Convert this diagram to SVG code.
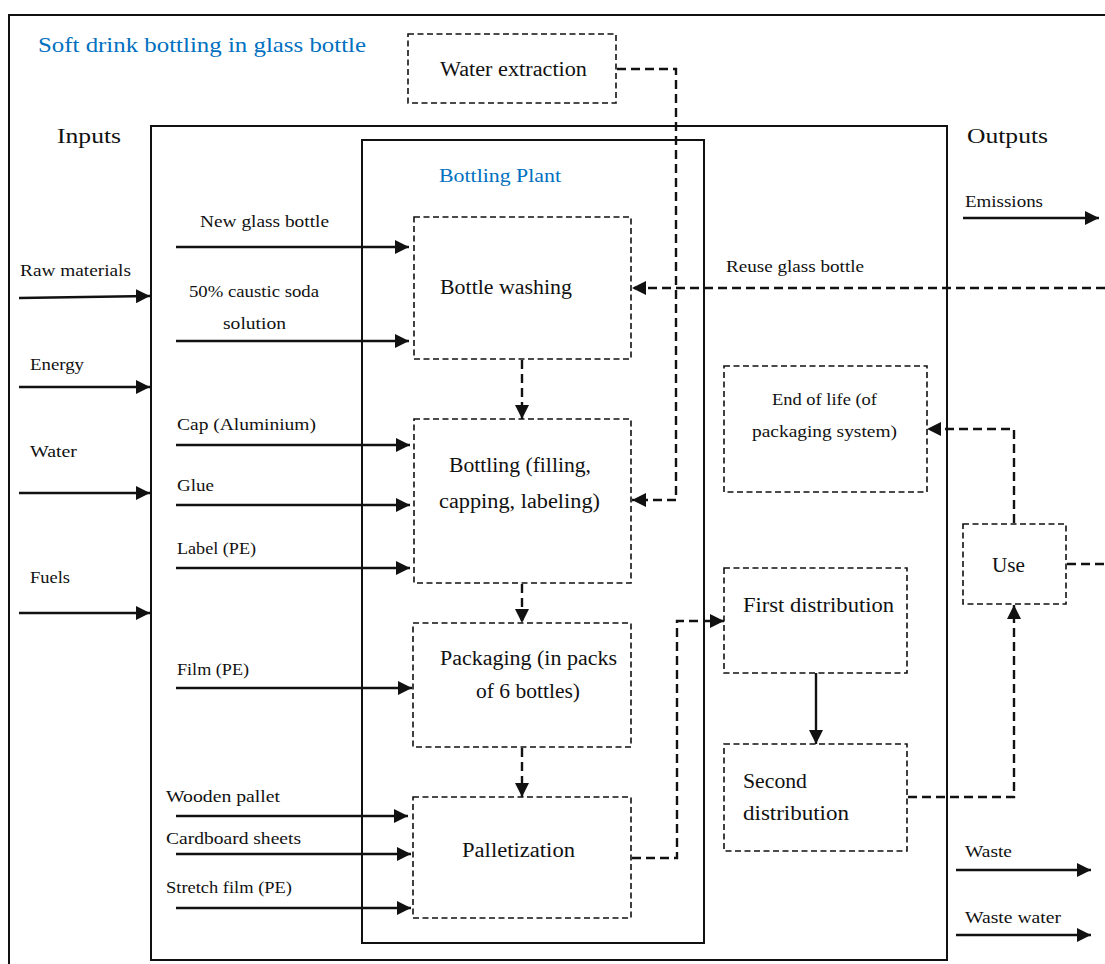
<svg xmlns="http://www.w3.org/2000/svg" width="1105" height="964" viewBox="0 0 1105 964">
  <style>
    text { fill: #111; }
    .title { font-size: 22px; fill: #0070C0; }
    .plant { font-size: 19px; fill: #0070C0; }
    .head { font-size: 22px; }
    .box { font-size: 20px; }
    .lbl { font-size: 17px; }
    .frame { fill: none; stroke: #111; stroke-width: 2; }
    .step { fill: #fff; stroke: #111; stroke-width: 1.6; stroke-dasharray: 6 3.5; }
    .flow { fill: none; stroke: #111; stroke-width: 2.4; }
    .dflow { fill: none; stroke: #111; stroke-width: 2.4; stroke-dasharray: 9 5; }
  </style>
  <defs>
    <marker id="arrow" viewBox="0 0 14 14" refX="14" refY="7" markerWidth="14" markerHeight="14" markerUnits="userSpaceOnUse" orient="auto">
      <path d="M0,0 L14,7 L0,14 z" fill="#111" stroke="none"/>
    </marker>
  </defs>

  <rect width="1105" height="964" fill="#fff"/>

  <!-- frames -->
  <g id="frames">
    <path class="frame" d="M9,964 V15 H1105"/>
    <rect class="frame" x="151" y="126" width="796" height="834"/>
    <rect class="frame" x="362" y="140" width="342" height="803"/>
  </g>

  <g font-family="'Liberation Serif', 'DejaVu Serif', serif">
  <!-- headings -->
  <g id="headings">
    <text class="title" x="38" y="52" textLength="328" lengthAdjust="spacingAndGlyphs">Soft drink bottling in glass bottle</text>
    <text class="head" x="57" y="143" textLength="64" lengthAdjust="spacingAndGlyphs">Inputs</text>
    <text class="head" x="967" y="143" textLength="81" lengthAdjust="spacingAndGlyphs">Outputs</text>
    <text class="plant" x="439" y="182" textLength="122" lengthAdjust="spacingAndGlyphs">Bottling Plant</text>
  </g>

  <!-- process steps -->
  <g id="water-extraction">
    <rect class="step" x="408" y="34" width="208" height="69"/>
    <text class="box" x="440" y="76" textLength="147" lengthAdjust="spacingAndGlyphs">Water extraction</text>
  </g>
  <g id="bottle-washing">
    <rect class="step" x="414" y="217" width="217" height="142"/>
    <text class="box" x="440" y="294" textLength="132" lengthAdjust="spacingAndGlyphs">Bottle washing</text>
  </g>
  <g id="bottling">
    <rect class="step" x="414" y="419" width="217" height="164"/>
    <text class="box" x="449" y="472" textLength="142" lengthAdjust="spacingAndGlyphs">Bottling (filling,</text>
    <text class="box" x="439" y="508" textLength="161" lengthAdjust="spacingAndGlyphs">capping, labeling)</text>
  </g>
  <g id="packaging">
    <rect class="step" x="413" y="623" width="218" height="124"/>
    <text class="box" x="440" y="665" textLength="177" lengthAdjust="spacingAndGlyphs">Packaging (in packs</text>
    <text class="box" x="476" y="698" textLength="104" lengthAdjust="spacingAndGlyphs">of 6 bottles)</text>
  </g>
  <g id="palletization">
    <rect class="step" x="413" y="797" width="218" height="121"/>
    <text class="box" x="462" y="857" textLength="113" lengthAdjust="spacingAndGlyphs">Palletization</text>
  </g>
  <g id="end-of-life">
    <rect class="step" x="724" y="366" width="203" height="126"/>
    <text class="lbl" x="772" y="405" textLength="105" lengthAdjust="spacingAndGlyphs">End of life (of</text>
    <text class="lbl" x="752" y="437" textLength="145" lengthAdjust="spacingAndGlyphs">packaging system)</text>
  </g>
  <g id="first-distribution">
    <rect class="step" x="724" y="568" width="183" height="105"/>
    <text class="box" x="743" y="612" textLength="151" lengthAdjust="spacingAndGlyphs">First distribution</text>
  </g>
  <g id="second-distribution">
    <rect class="step" x="724" y="744" width="183" height="107"/>
    <text class="box" x="743" y="788" textLength="64" lengthAdjust="spacingAndGlyphs">Second</text>
    <text class="box" x="743" y="820" textLength="106" lengthAdjust="spacingAndGlyphs">distribution</text>
  </g>
  <g id="use">
    <rect class="step" x="963" y="524" width="103" height="80"/>
    <text class="box" x="992" y="572" textLength="33" lengthAdjust="spacingAndGlyphs">Use</text>
  </g>

  <!-- flow labels -->
  <g id="labels">
    <text class="lbl" x="20" y="276" textLength="111" lengthAdjust="spacingAndGlyphs">Raw materials</text>
    <text class="lbl" x="30" y="370" textLength="54" lengthAdjust="spacingAndGlyphs">Energy</text>
    <text class="lbl" x="30" y="457" textLength="47" lengthAdjust="spacingAndGlyphs">Water</text>
    <text class="lbl" x="30" y="583" textLength="40" lengthAdjust="spacingAndGlyphs">Fuels</text>
    <text class="lbl" x="200" y="227" textLength="129" lengthAdjust="spacingAndGlyphs">New glass bottle</text>
    <text class="lbl" x="189" y="297" textLength="130" lengthAdjust="spacingAndGlyphs">50% caustic soda</text>
    <text class="lbl" x="223" y="329" textLength="63" lengthAdjust="spacingAndGlyphs">solution</text>
    <text class="lbl" x="177" y="430" textLength="139" lengthAdjust="spacingAndGlyphs">Cap (Aluminium)</text>
    <text class="lbl" x="177" y="491" textLength="37" lengthAdjust="spacingAndGlyphs">Glue</text>
    <text class="lbl" x="177" y="554" textLength="79" lengthAdjust="spacingAndGlyphs">Label (PE)</text>
    <text class="lbl" x="177" y="675" textLength="72" lengthAdjust="spacingAndGlyphs">Film (PE)</text>
    <text class="lbl" x="166" y="802" textLength="114" lengthAdjust="spacingAndGlyphs">Wooden pallet</text>
    <text class="lbl" x="166" y="844" textLength="135" lengthAdjust="spacingAndGlyphs">Cardboard sheets</text>
    <text class="lbl" x="166" y="893" textLength="126" lengthAdjust="spacingAndGlyphs">Stretch film (PE)</text>
    <text class="lbl" x="965" y="207" textLength="78" lengthAdjust="spacingAndGlyphs">Emissions</text>
    <text class="lbl" x="726" y="272" textLength="138" lengthAdjust="spacingAndGlyphs">Reuse glass bottle</text>
    <text class="lbl" x="965" y="857" textLength="47" lengthAdjust="spacingAndGlyphs">Waste</text>
    <text class="lbl" x="965" y="923" textLength="96" lengthAdjust="spacingAndGlyphs">Waste water</text>
  </g>
  </g>

  <!-- connectors -->
  <g id="connectors">
    <!-- system inputs -->
    <line class="flow" x1="19" y1="298" x2="150" y2="296" marker-end="url(#arrow)"/>
    <line class="flow" x1="19" y1="387" x2="150" y2="387" marker-end="url(#arrow)"/>
    <line class="flow" x1="19" y1="493" x2="150" y2="493" marker-end="url(#arrow)"/>
    <line class="flow" x1="19" y1="613" x2="150" y2="613" marker-end="url(#arrow)"/>
    <!-- material inputs -->
    <line class="flow" x1="176" y1="247" x2="409" y2="247" marker-end="url(#arrow)"/>
    <line class="flow" x1="176" y1="341" x2="409" y2="341" marker-end="url(#arrow)"/>
    <line class="flow" x1="176" y1="445" x2="410" y2="445" marker-end="url(#arrow)"/>
    <line class="flow" x1="176" y1="505" x2="410" y2="505" marker-end="url(#arrow)"/>
    <line class="flow" x1="176" y1="568" x2="410" y2="568" marker-end="url(#arrow)"/>
    <line class="flow" x1="176" y1="688" x2="412" y2="688" marker-end="url(#arrow)"/>
    <line class="flow" x1="176" y1="816" x2="408" y2="816" marker-end="url(#arrow)"/>
    <line class="flow" x1="176" y1="854" x2="411" y2="854" marker-end="url(#arrow)"/>
    <line class="flow" x1="176" y1="908" x2="411" y2="908" marker-end="url(#arrow)"/>
    <!-- outputs -->
    <line class="flow" x1="963" y1="218" x2="1099" y2="218" marker-end="url(#arrow)"/>
    <line class="flow" x1="956" y1="870" x2="1091" y2="870" marker-end="url(#arrow)"/>
    <line class="flow" x1="956" y1="935" x2="1091" y2="935" marker-end="url(#arrow)"/>
    <!-- process chain -->
    <line class="dflow" x1="522" y1="360" x2="522" y2="419" marker-end="url(#arrow)"/>
    <line class="dflow" x1="522" y1="584" x2="522" y2="623" marker-end="url(#arrow)"/>
    <line class="dflow" x1="522" y1="748" x2="522" y2="797" marker-end="url(#arrow)"/>
    <path class="dflow" d="M617,69 H676 V500 H632" marker-end="url(#arrow)"/>
    <path class="dflow" d="M1105,288 H632" marker-end="url(#arrow)"/>
    <path class="dflow" d="M632,858 H677 V621 H724" marker-end="url(#arrow)"/>
    <line class="flow" x1="816" y1="673" x2="816" y2="744" marker-end="url(#arrow)"/>
    <path class="dflow" d="M908,797 H1014 V605" marker-end="url(#arrow)"/>
    <path class="dflow" d="M1014,523 V429 H927" marker-end="url(#arrow)"/>
    <path class="dflow" d="M1067,564 H1105"/>
  </g>
</svg>
